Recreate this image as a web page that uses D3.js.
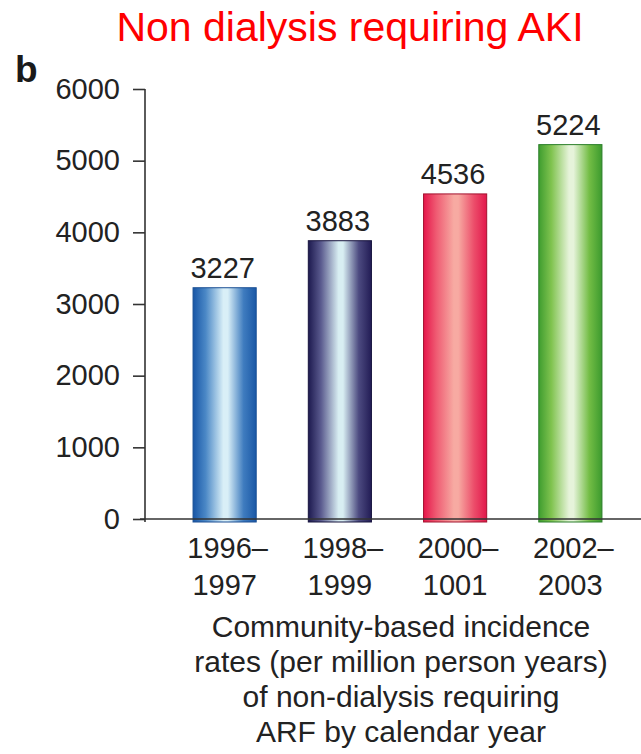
<!DOCTYPE html>
<html>
<head>
<meta charset="utf-8">
<script src="https://cdn.jsdelivr.net/npm/d3@7"></script>
<style>
  html, body { margin: 0; padding: 0; background: #fff; }
  svg { display: block; }
  text { font-family: "Liberation Sans", Arial, Helvetica, sans-serif; }
</style>
</head>
<body>
<svg id="chart" width="641" height="754"></svg>
<script>
// Incidence of non-dialysis requiring ARF, per million person years
const categories = ["1996–1997", "1998–1999", "2000–1001", "2002–2003"];
const categoryLines = [["1996–", "1997"], ["1998–", "1999"], ["2000–", "1001"], ["2002–", "2003"]];
const values = [3227, 3883, 4536, 5224];
const yTicks = [0, 1000, 2000, 3000, 4000, 5000, 6000];
const titleText = "Non dialysis requiring AKI";
const panelLetter = "b";
const axisTitleLines = [
  "Community-based incidence",
  "rates (per million person years)",
  "of non-dialysis requiring",
  "ARF by calendar year"
];

// Cylinder-style shading for each bar: edge, shoulder, highlight, shoulder, edge
const barShades = [
  { edge: "#1856a6", mid: "#4b88c6", light: "#d9eff7", mid2: "#3f7cbf", edge2: "#1a58a6", stroke: "#1a4f94" },
  { edge: "#1d1a4f", mid: "#5a5a8e", light: "#d8eef2", mid2: "#4c4a80", edge2: "#221c55", stroke: "#17143f" },
  { edge: "#e5164a", mid: "#ef5a72", light: "#f7aaa2", mid2: "#ec4d6a", edge2: "#e2174b", stroke: "#a3122f" },
  { edge: "#3f9d2f", mid: "#80c34f", light: "#e6f3da", mid2: "#73bd45", edge2: "#3c9a2e", stroke: "#2b7f2a" }
];

const svg = d3.select("#chart");

const y = d3.scaleLinear().domain([0, 6000]).range([519, 89]);
const x = d3.scaleBand()
  .domain(categories)
  .range([145, 650])
  .paddingInner(0.452)
  .paddingOuter(0.417);

// gradients
const defs = svg.append("defs");
barShades.forEach((s, i) => {
  const g = defs.append("linearGradient")
    .attr("id", "barGrad" + i)
    .attr("x1", "0%").attr("x2", "100%").attr("y1", "0%").attr("y2", "0%");
  [[0, s.edge], [0.2, s.mid], [0.48, s.light], [0.55, s.light], [0.8, s.mid2], [1, s.edge2]]
    .forEach(([o, c]) => g.append("stop").attr("offset", (o * 100) + "%").attr("stop-color", c));
});

// title
svg.append("text")
  .attr("x", 350).attr("y", 41)
  .attr("text-anchor", "middle")
  .attr("font-size", 41)
  .attr("fill", "#ff0000")
  .text(titleText);

// panel letter
svg.append("text")
  .attr("x", 15).attr("y", 82)
  .attr("font-size", 37)
  .attr("font-weight", "bold")
  .attr("fill", "#1a1a1a")
  .text(panelLetter);

// bars
svg.append("g").selectAll("rect")
  .data(values)
  .join("rect")
  .attr("x", (d, i) => x(categories[i]))
  .attr("width", x.bandwidth())
  .attr("y", d => y(d))
  .attr("height", d => y(0) - y(d) + 3)
  .attr("fill", (d, i) => `url(#barGrad${i})`)
  .attr("stroke", (d, i) => barShades[i].stroke)
  .attr("stroke-width", 1);

// y axis
const yAxis = svg.append("g")
  .attr("transform", "translate(145,0)")
  .call(d3.axisLeft(y).tickValues(yTicks).tickFormat(d3.format("d"))
    .tickSize(12).tickSizeOuter(0).tickPadding(13));
yAxis.select(".domain").attr("stroke", "#333").attr("stroke-width", 1.6)
  .attr("d", `M0,${y(6000)}V${y(0) + 3}`);
yAxis.selectAll(".tick line").attr("stroke", "#333").attr("stroke-width", 1.6);
yAxis.selectAll(".tick text")
  .attr("font-size", 29)
  .attr("fill", "#222")
  .attr("font-family", "'Liberation Sans', Arial, sans-serif");

// x axis baseline
svg.append("line")
  .attr("x1", 140).attr("x2", 641)
  .attr("y1", y(0)).attr("y2", y(0))
  .attr("stroke", "#333").attr("stroke-width", 1.6);

// value labels
svg.append("g").selectAll("text")
  .data(values)
  .join("text")
  .attr("x", (d, i) => x(categories[i]) + x.bandwidth() / 2 - 2)
  .attr("y", d => y(d) - 10)
  .attr("text-anchor", "middle")
  .attr("font-size", 29)
  .attr("fill", "#222")
  .text(d => d);

// category labels (two lines each)
const cat = svg.append("g").selectAll("text")
  .data(categories)
  .join("text")
  .attr("text-anchor", "middle")
  .attr("font-size", 29)
  .attr("fill", "#222");
cat.each(function(c, i) {
  const t = d3.select(this);
  const cx = x(c) + x.bandwidth() / 2;
  categoryLines[i].forEach((line, j) => {
    t.append("tspan")
      .attr("x", cx + (j === 0 ? 3 : 0))
      .attr("y", 558 + j * 37)
      .text(line);
  });
});

// axis title
svg.append("text")
  .attr("text-anchor", "middle")
  .attr("font-size", 30)
  .attr("fill", "#222")
  .selectAll("tspan")
  .data(axisTitleLines)
  .join("tspan")
  .attr("x", 401)
  .attr("y", (d, i) => 637 + i * 35)
  .text(d => d);
</script>
</body>
</html>
